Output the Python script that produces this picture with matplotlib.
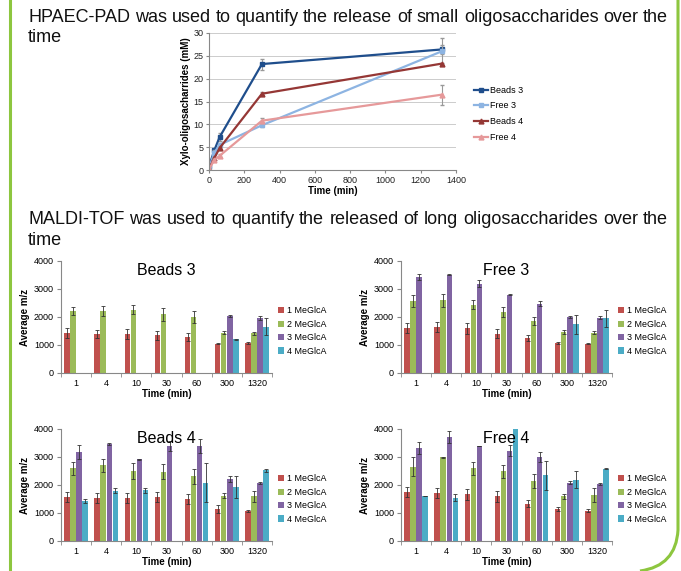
import numpy as np
import matplotlib.pyplot as plt
from matplotlib.path import Path
from matplotlib.patches import PathPatch
from matplotlib.lines import Line2D

plt.rcParams['font.family'] = ['Liberation Sans', 'DejaVu Sans']

# ---- HPAEC-PAD line chart data ----
hp_time = [1, 30, 60, 300, 1320]
hp_series = ["Beads 3", "Free 3", "Beads 4", "Free 4"]
hp_values = [
    [0.9, 4.3, 7.2, 23.2, 26.4],
    [0.5, 3.8, 5.5, 9.8, 26.0],
    [0.3, 2.6, 4.8, 16.7, 23.3],
    [0.2, 2.2, 3.1, 10.8, 16.5],
]
hp_errors = [
    [0.2, 0.4, 0.8, 1.2, 1.0],
    [0.2, 0.5, 0.5, 0.4, 3.0],
    [0.1, 0.3, 0.3, 0.3, 0.2],
    [0.1, 0.3, 0.3, 0.5, 2.2],
]
hp_colors = ["#1F4E8C", "#8DB4E2", "#953735", "#E6999A"]
hp_markers = ["s", "s", "^", "^"]

# ---- MALDI-TOF bar chart data ----
times = ["1", "4", "10", "30", "60", "300", "1320"]
groups = ["1 MeGlcA", "2 MeGlcA", "3 MeGlcA", "4 MeGlcA"]
bar_colors = ["#C0504D", "#9BBB59", "#8064A2", "#4BACC6"]

beads3 = [
    [1420, 1390, 1390, 1340, 1290, 1050, 1080],
    [2220, 2220, 2260, 2090, 2000, 1440, 1420],
    [0, 0, 0, 0, 0, 2030, 1970],
    [0, 0, 0, 0, 0, 1200, 1650],
]
beads3_err = [
    [170, 150, 170, 150, 130, 20, 30],
    [140, 170, 170, 230, 220, 60, 50],
    [0, 0, 0, 0, 0, 30, 60],
    [0, 0, 0, 0, 0, 10, 300],
]
free3 = [
    [1610, 1650, 1590, 1400, 1250, 1070, 1050],
    [2570, 2590, 2440, 2180, 1850, 1460, 1440],
    [3420, 3510, 3190, 2800, 2470, 2010, 1980],
    [0, 0, 0, 0, 0, 1740, 1950],
]
free3_err = [
    [170, 170, 180, 160, 100, 30, 30],
    [230, 230, 170, 180, 150, 60, 60],
    [110, 10, 130, 20, 90, 30, 50],
    [0, 0, 0, 0, 0, 330, 310],
]
beads4 = [
    [1560, 1540, 1520, 1570, 1490, 1140, 1070],
    [2590, 2700, 2510, 2480, 2310, 1620, 1590],
    [3180, 3460, 2920, 3380, 3390, 2210, 2080],
    [1420, 1800, 1810, 0, 2080, 1930, 2520],
]
beads4_err = [
    [180, 170, 180, 170, 180, 130, 30],
    [240, 230, 280, 280, 260, 100, 200],
    [240, 30, 10, 180, 260, 100, 30],
    [70, 100, 90, 0, 700, 400, 50],
]
free4 = [
    [1740, 1720, 1670, 1600, 1330, 1130, 1080],
    [2660, 2990, 2590, 2490, 2160, 1590, 1650],
    [3320, 3720, 3390, 3230, 3000, 2080, 2030],
    [1600, 1550, 0, 4050, 2340, 2190, 2580],
]
free4_err = [
    [180, 170, 200, 190, 120, 70, 50],
    [340, 10, 230, 230, 250, 80, 240],
    [220, 210, 10, 200, 170, 50, 30],
    [10, 120, 0, 0, 510, 300, 20],
]

line1 = "HPAEC-PAD was used to quantify the release of small oligosaccharides over the"
line2 = "MALDI-TOF was used to quantify the released of long oligosaccharides over the"

W, H = 681, 571
fig = plt.figure(figsize=(W / 100, H / 100), dpi=100)
renderer = fig.canvas.get_renderer()


def fx(px):
    return px / W


def fy(py):
    return 1 - py / H


def justified(text, x0, x1, y, size):
    # lay words out so the line fills x0..x1 like a justified paragraph
    words = text.split()
    objs = [fig.text(0, fy(y), w, fontsize=size, color="#111111") for w in words]
    widths = [o.get_window_extent(renderer).width for o in objs]
    gap = (x1 - x0 - sum(widths)) / (len(words) - 1)
    pos = x0
    for o, w in zip(objs, widths):
        o.set_x(fx(pos))
        pos += w + gap


# slide decoration: green borders
green = "#8DC63F"
fig.add_artist(Line2D([fx(10), fx(10)], [0, 1], color=green, lw=2.2, transform=fig.transFigure))
verts = [(fx(678), 1), (fx(678), fy(530)), (fx(676), fy(566)), (fx(640), 0)]
path = Path(verts, [Path.MOVETO, Path.LINETO, Path.CURVE3, Path.CURVE3])
fig.add_artist(PathPatch(path, fill=False, edgecolor=green, lw=2.2, transform=fig.transFigure))

# slide text
justified(line1, 28, 668, 22, 13)
fig.text(fx(28), fy(42), "time", fontsize=13, color="#111111")
justified(line2, 28, 668, 224, 13)
fig.text(fx(28), fy(245), "time", fontsize=13, color="#111111")

# ---- line chart ----
ax = fig.add_axes([fx(209), fy(170), fx(456) - fx(209), fy(33) - fy(170)])
handles = []
for name, vals, errs, col, mk in zip(hp_series, hp_values, hp_errors, hp_colors, hp_markers):
    ax.errorbar(hp_time, vals, yerr=errs, fmt="none", ecolor="#999999", elinewidth=0.8, capsize=1.5)
    h, = ax.plot(hp_time, vals, color=col, marker=mk, markersize=3.5, lw=1.6, label=name)
    handles.append(h)
ax.set_xlim(0, 1400)
ax.set_ylim(0, 30)
ax.set_xticks(np.arange(0, 1401, 200))
ax.set_yticks(np.arange(0, 31, 5))
ax.yaxis.grid(True, color="#CCCCCC", lw=0.7)
ax.set_axisbelow(True)
for s in ["top", "right"]:
    ax.spines[s].set_visible(False)
for s in ["left", "bottom"]:
    ax.spines[s].set_color("#888888")
    ax.spines[s].set_linewidth(0.8)
ax.tick_params(labelsize=6.5, length=2.5, color="#888888", colors="#222222", pad=1.5)
ax.set_xlabel("Time (min)", fontsize=7, fontweight="bold", labelpad=1)
ax.set_ylabel("Xylo-oligosacharrides (mM)", fontsize=7, fontweight="bold", labelpad=2)
ax.legend(handles=handles, loc="center left", bbox_to_anchor=(1.04, 0.41), frameon=False,
          fontsize=6.5, handlelength=1.6, handletextpad=0.2, labelspacing=0.75)

# ---- bar charts ----
panels = [
    ("Beads 3", beads3, beads3_err, 61, 261, 373),
    ("Free 3", free3, free3_err, 401, 261, 373),
    ("Beads 4", beads4, beads4_err, 61, 429, 541),
    ("Free 4", free4, free4_err, 401, 429, 541),
]
x = np.arange(len(times))
bw = 0.18
for title, data, errs, left, top, bottom in panels:
    bx = fig.add_axes([fx(left), fy(bottom), fx(left + 211) - fx(left), fy(top) - fy(bottom)])
    for i, (vals, err, col, lab) in enumerate(zip(data, errs, bar_colors, groups)):
        pos = x + (i - 1.5) * (bw + 0.02)
        bx.bar(pos, vals, bw, color=col, label=lab)
        mask = np.array(vals) > 0
        bx.errorbar(pos[mask], np.array(vals)[mask], yerr=np.array(err)[mask], fmt="none",
                    ecolor="#333333", elinewidth=0.6, capsize=1.3, capthick=0.6)
    bx.set_xlim(-0.5, len(times) - 0.5)
    bx.set_ylim(0, 4000)
    bx.set_yticks(np.arange(0, 4001, 1000))
    bx.set_xticks(x)
    bx.set_xticklabels(times)
    bx.set_xticks(np.arange(-0.5, len(times), 1), minor=True)
    bx.tick_params(axis="x", which="major", length=0, labelsize=6.5, pad=4)
    bx.tick_params(axis="x", which="minor", length=3, color="#888888")
    bx.tick_params(axis="y", labelsize=6.5, length=3, color="#888888", pad=2)
    for s in ["top", "right"]:
        bx.spines[s].set_visible(False)
    for s in ["left", "bottom"]:
        bx.spines[s].set_color("#888888")
        bx.spines[s].set_linewidth(0.8)
    bx.set_xlabel("Time (min)", fontsize=7, fontweight="bold", labelpad=1)
    bx.set_ylabel("Average m/z", fontsize=7, fontweight="bold", labelpad=3)
    bx.text(0.5, 0.98, title, transform=bx.transAxes, ha="center", va="top", fontsize=11.5)
    bx.legend(loc="center left", bbox_to_anchor=(1.0, 0.375), borderaxespad=0.3, frameon=False,
              fontsize=6.4, handlelength=0.7, handleheight=0.7, handletextpad=0.3, labelspacing=0.5)

fig.savefig("out.png", dpi=100)
